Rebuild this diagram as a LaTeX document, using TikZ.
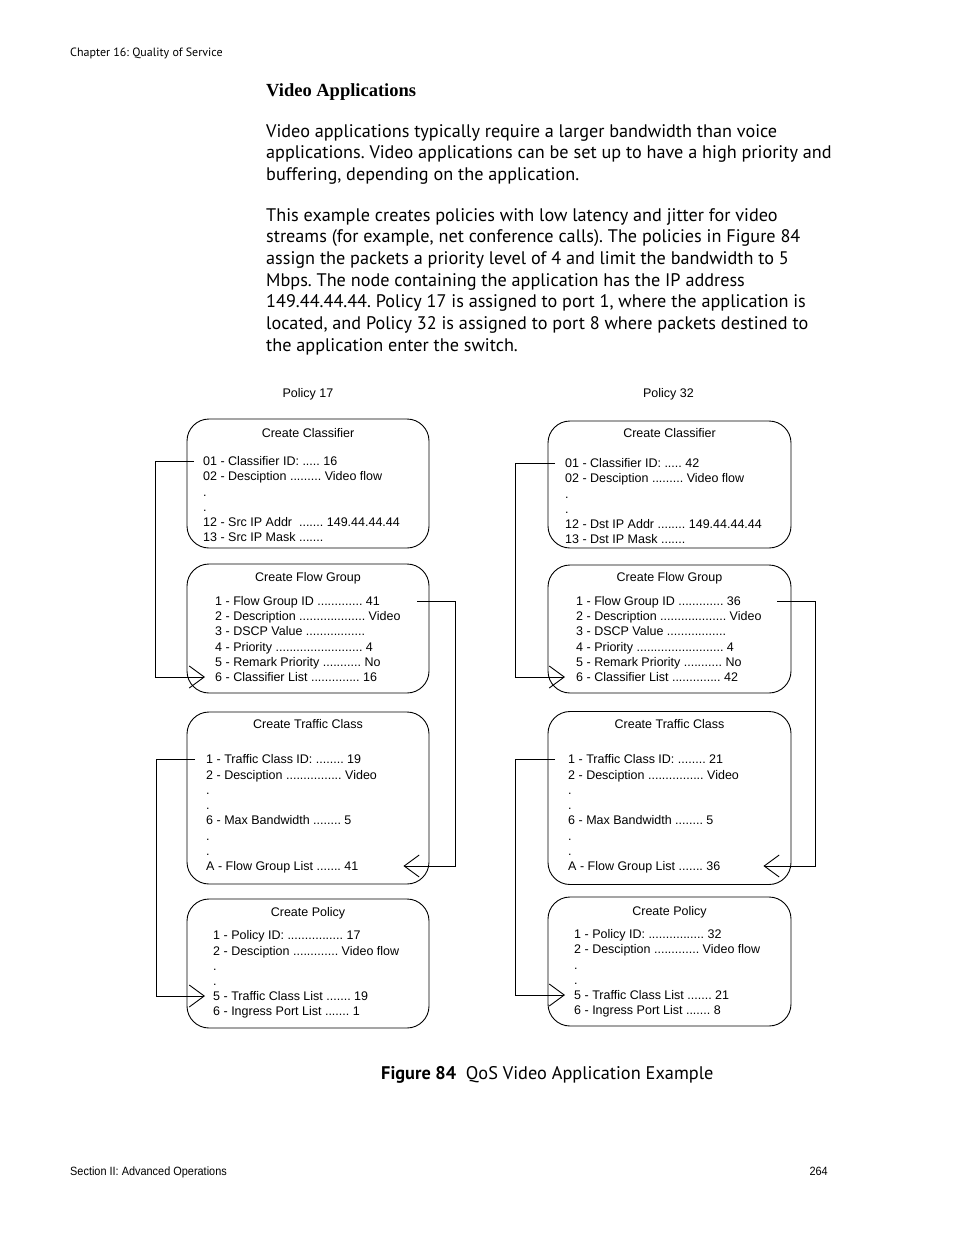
\documentclass[tikz,border=0pt]{standalone}
\usepackage{fontspec}
\setmainfont{PT Sans}
\newfontfamily\headfont{Liberation Serif}
\newfontfamily\figfont{Liberation Sans}
\newfontfamily\footfont{Liberation Sans}[FakeStretch=0.91]
\usetikzlibrary{arrows.meta,calc}
\frenchspacing

\begin{document}
\begin{tikzpicture}[x=1pt,y=-1pt,
  every node/.style={inner sep=0pt},
  body/.style={anchor=base west, font=\fontsize{18.2}{21.7}\selectfont},
  row/.style={anchor=west, text height=9pt, text depth=0pt, font=\figfont\fontsize{12.5}{15}\selectfont},
  title/.style={row, anchor=center},
  panel/.style={draw, line width=0.9pt, rounded corners=22pt},
  link/.style={line width=0.9pt, -{Straight Barb[length=15pt,width=22pt]}}]
\useasboundingbox (0,0) rectangle (954,1235);

% page text
\node[anchor=base west, font=\fontsize{12}{14}\selectfont] (chap) at (70,56) {Chapter 16: Quality of Service};
\node[anchor=base west, font=\headfont\bfseries\fontsize{18.5}{22}\selectfont] (head) at (266,96) {Video Applications};

\node[body] (p1-1) at (266,137) {Video applications typically require a larger bandwidth than voice};
\node[body] (p1-2) at (266,158.7) {applications. Video applications can be set up to have a high priority and};
\node[body] (p1-3) at (266,180.4) {buffering, depending on the application.};

\node[body] (p2-1) at (266,221) {This example creates policies with low latency and jitter for video};
\node[body] (p2-2) at (266,242.7) {streams (for example, net conference calls). The policies in Figure 84};
\node[body] (p2-3) at (266,264.4) {assign the packets a priority level of 4 and limit the bandwidth to 5};
\node[body] (p2-4) at (266,286.1) {Mbps. The node containing the application has the IP address};
\node[body] (p2-5) at (266,307.8) {149.44.44.44. Policy 17 is assigned to port 1, where the application is};
\node[body] (p2-6) at (266,329.5) {located, and Policy 32 is assigned to port 8 where packets destined to};
\node[body] (p2-7) at (266,351.2) {the application enter the switch.};

% policy headings
\node[anchor=base, font=\figfont\fontsize{12.5}{15}\selectfont] (pol17) at (308,397.5) {Policy 17};
\node[anchor=base, font=\figfont\fontsize{12.5}{15}\selectfont] (pol32) at (668.5,397.5) {Policy 32};

% the boxes, left column
\node[panel, minimum width=242pt, minimum height=129pt] (clsL) at (308,483.5) {};
\node[panel, minimum width=242pt, minimum height=129pt] (fgL) at (308,628.5) {};
\node[panel, minimum width=242pt, minimum height=172pt] (tcL) at (308,798) {};
\node[panel, minimum width=242pt, minimum height=129pt] (polL) at (308,963.5) {};

% the boxes, right column
\node[panel, minimum width=243pt, minimum height=127pt] (clsR) at (669.5,484.5) {};
\node[panel, minimum width=243pt, minimum height=128pt] (fgR) at (669.5,629) {};
\node[panel, minimum width=243pt, minimum height=173pt] (tcR) at (669.5,798) {};
\node[panel, minimum width=243pt, minimum height=129pt] (polR) at (669.5,961.5) {};

% Policy 17 entries
\node[title] (clsL-t) at (308,433) {Create Classifier};
\node[row] (clsL-1) at (203,461) {01 - Classifier ID: ..... 16};
\node[row] (clsL-2) at (203,476) {02 - Desciption ......... Video flow};
\node[row] (clsL-3) at (203,492) {.};
\node[row] (clsL-4) at (203,507) {.};
\node[row] (clsL-5) at (203,522) {12 - Src IP Addr\ \ ....... 149.44.44.44};
\node[row] (clsL-6) at (203,537) {13 - Src IP Mask .......};

\node[title] (fgL-t) at (308,577) {Create Flow Group};
\node[row] (fgL-1) at (215,601) {1 - Flow Group ID ............. 41};
\node[row] (fgL-2) at (215,616) {2 - Description ................... Video};
\node[row] (fgL-3) at (215,631) {3 - DSCP Value .................};
\node[row] (fgL-4) at (215,647) {4 - Priority ......................... 4};
\node[row] (fgL-5) at (215,662) {5 - Remark Priority ........... No};
\node[row] (fgL-6) at (215,677) {6 - Classifier List .............. 16};

\node[title] (tcL-t) at (308,724) {Create Traffic Class};
\node[row] (tcL-1) at (206,759) {1 - Traffic Class ID: ........ 19};
\node[row] (tcL-2) at (206,775) {2 - Desciption ................ Video};
\node[row] (tcL-3) at (206,790) {.};
\node[row] (tcL-4) at (206,805) {.};
\node[row] (tcL-5) at (206,820) {6 - Max Bandwidth ........ 5};
\node[row] (tcL-6) at (206,836) {.};
\node[row] (tcL-7) at (206,851) {.};
\node[row] (tcL-8) at (206,866) {A - Flow Group List ....... 41};

\node[title] (polL-t) at (308,912) {Create Policy};
\node[row] (polL-1) at (213,935) {1 - Policy ID: ................ 17};
\node[row] (polL-2) at (213,951) {2 - Desciption ............. Video flow};
\node[row] (polL-3) at (213,966) {.};
\node[row] (polL-4) at (213,981) {.};
\node[row] (polL-5) at (213,996) {5 - Traffic Class List ....... 19};
\node[row] (polL-6) at (213,1011) {6 - Ingress Port List ....... 1};

% Policy 32 entries
\node[title] (clsR-t) at (669.5,433) {Create Classifier};
\node[row] (clsR-1) at (565,463) {01 - Classifier ID: ..... 42};
\node[row] (clsR-2) at (565,478) {02 - Desciption ......... Video flow};
\node[row] (clsR-3) at (565,494) {.};
\node[row] (clsR-4) at (565,509) {.};
\node[row] (clsR-5) at (565,524) {12 - Dst IP Addr ........ 149.44.44.44};
\node[row] (clsR-6) at (565,539) {13 - Dst IP Mask .......};

\node[title] (fgR-t) at (669.5,577) {Create Flow Group};
\node[row] (fgR-1) at (576,601) {1 - Flow Group ID ............. 36};
\node[row] (fgR-2) at (576,616) {2 - Description ................... Video};
\node[row] (fgR-3) at (576,631) {3 - DSCP Value .................};
\node[row] (fgR-4) at (576,647) {4 - Priority ......................... 4};
\node[row] (fgR-5) at (576,662) {5 - Remark Priority ........... No};
\node[row] (fgR-6) at (576,677) {6 - Classifier List .............. 42};

\node[title] (tcR-t) at (669.5,724) {Create Traffic Class};
\node[row] (tcR-1) at (568,759) {1 - Traffic Class ID: ........ 21};
\node[row] (tcR-2) at (568,775) {2 - Desciption ................ Video};
\node[row] (tcR-3) at (568,790) {.};
\node[row] (tcR-4) at (568,805) {.};
\node[row] (tcR-5) at (568,820) {6 - Max Bandwidth ........ 5};
\node[row] (tcR-6) at (568,836) {.};
\node[row] (tcR-7) at (568,851) {.};
\node[row] (tcR-8) at (568,866) {A - Flow Group List ....... 36};

\node[title] (polR-t) at (669.5,911) {Create Policy};
\node[row] (polR-1) at (574,934) {1 - Policy ID: ................ 32};
\node[row] (polR-2) at (574,949) {2 - Desciption ............. Video flow};
\node[row] (polR-3) at (574,965) {.};
\node[row] (polR-4) at (574,980) {.};
\node[row] (polR-5) at (574,995) {5 - Traffic Class List ....... 21};
\node[row] (polR-6) at (574,1010) {6 - Ingress Port List ....... 8};

% links, Policy 17
\draw[link] ([xshift=-9pt]clsL-1.west) -- ++(-39,0) |- ([xshift=-10pt]fgL-6.west);
\draw[link] ($(fgL.east |- fgL-1.west)+(-12,0)$) -- ++(38,0) |- ($(tcL.east |- tcL-8.west)+(-26,0)$);
\draw[link] ([xshift=-11pt]tcL-1.west) -- ++(-39,0) |- ([xshift=-8pt]polL-5.west);

% links, Policy 32
\draw[link] ([xshift=-10pt]clsR-1.west) -- ++(-40,0) |- ([xshift=-11pt]fgR-6.west);
\draw[link] ($(fgR.east |- fgR-1.west)+(-14,0)$) -- ++(38,0) |- ($(tcR.east |- tcR-8.west)+(-28,0)$);
\draw[link] ([xshift=-13pt]tcR-1.west) -- ++(-40,0) |- ([xshift=-9pt]polR-5.west);

% caption and footer
\node[anchor=base west, font=\fontsize{18.3}{22}\selectfont] (cap) at (381,1079) {\textbf{Figure 84}\ \ QoS Video Application Example};
\node[anchor=base west, font=\footfont\fontsize{12}{14}\selectfont] (sect) at (70,1175.5) {Section II: Advanced Operations};
\node[anchor=base east, font=\footfont\fontsize{12}{14}\selectfont] (pg) at (828,1175.5) {264};

\end{tikzpicture}
\end{document}
